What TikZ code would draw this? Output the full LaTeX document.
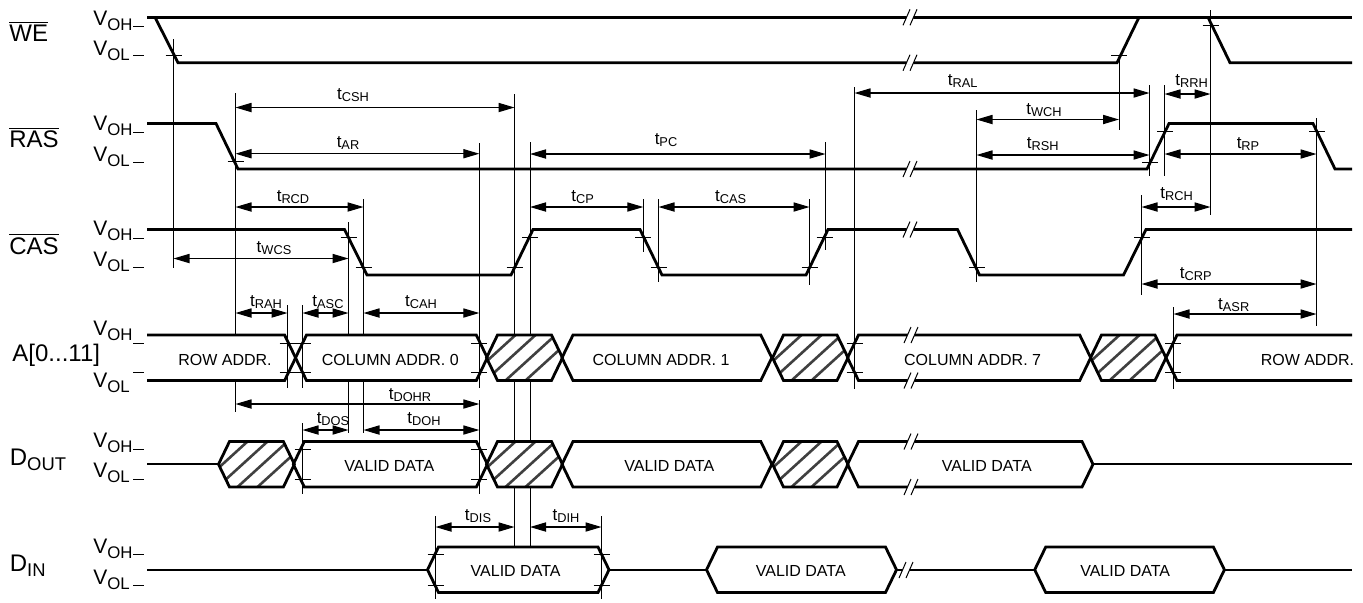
\documentclass[tikz,border=0pt]{standalone}
\usepackage{fontspec}
\setmainfont{Liberation Sans}
\usetikzlibrary{arrows.meta}

\definecolor{hatchgray}{HTML}{404040}

\tikzset{
    sig/.style = {line width=1.4pt, line join=miter},
    thin line/.style = {line width=0.5pt},
    hatchline/.style = {line width=1.3pt, hatchgray},
    dim/.style = {line width=0.55pt, {Triangle[length=8pt,width=4.6pt]}-{Triangle[length=8pt,width=4.6pt]}},
    tlabel/.style = {anchor=base, inner sep=0pt, font=\fontsize{8.5}{10}\selectfont},
    vlabel/.style = {anchor=base west, inner sep=0pt, font=\fontsize{10.5}{12}\selectfont},
    signame/.style = {anchor=base west, inner sep=0pt, font=\fontsize{12}{14}\selectfont},
    cell/.style = {anchor=base, inner sep=0pt, font=\fontsize{8}{10}\selectfont}
}

\newcommand{\tsub}[1]{t\raisebox{-1pt}{\fontsize{6.4}{8}\selectfont #1}}
\newcommand{\vsub}[1]{V\raisebox{-2.5pt}{\fontsize{8.4}{10}\selectfont #1}}
\newcommand{\hexpath}[4]{(#1-11,{(#3+#4)/2}) -- (#1,#3) -- (#2,#3) -- (#2+11,{(#3+#4)/2}) -- (#2,#4) -- (#1,#4) -- cycle}
\newcommand{\hatchcell}[4]{%
    \begin{scope}
        \clip \hexpath{#1}{#2}{#3}{#4};
        \foreach \o in {18,38,58,78}
            \draw[hatchline] (#1+\o,#3) -- (#1+\o-50,#4);
    \end{scope}
    \draw[sig] \hexpath{#1}{#2}{#3}{#4};}
\newcommand{\breakmark}[2]{%
    \fill[white] (#1+3,#2+2) -- (#1+10,#2+2) -- (#1+11,#2-2) -- (#1+4,#2-2) -- cycle;
    \draw[thin line] (#1,#2+8) -- (#1+7,#2-8) (#1+7,#2+8) -- (#1+14,#2-8);}
\newcommand{\tdim}[6]{%
    \coordinate (#1a) at (#2,#4);
    \coordinate (#1b) at (#3,#4);
    \draw[dim] (#1a) -- (#1b);
    \node[tlabel] (#1) at (#5,#6) {\tsub{#1}};}

\begin{document}
\begin{tikzpicture}[x=0.5pt,y=-0.5pt]
    \useasboundingbox (0,0) rectangle (1363,602);

    % signal names
    \node[signame] (we) at (9,41.7) {$\overline{\mbox{WE}}$};
    \node[signame] (ras) at (9,147.7) {$\overline{\mbox{RAS}}$};
    \node[signame] (cas) at (9,254) {$\overline{\mbox{CAS}}$};
    \node[signame] (addr) at (12,361.7) {A[0...11]};
    \node[signame] (dout) at (9.5,465.7) {D\raisebox{-2.5pt}{\fontsize{9.2}{11}\selectfont OUT}};
    \node[signame] (din) at (9.5,571.7) {D\raisebox{-2.5pt}{\fontsize{9.2}{11}\selectfont IN}};

    % levels
    \foreach \y/\v [count=\i] in {25/OH,55.7/OL,130.7/OH,161.7/OL,235.7/OH,266.7/OL,335/OH,387/OL,447/OH,477.7/OL,553/OH,584/OL}
        \node[vlabel] (v\i) at (93,\y) {\vsub{\v}};
    \foreach \y in {26,55,132,162,238,267.5,343,372.5,449,479.5,554.5,585}
        \draw[thin line] (133,\y) -- (144,\y);

    % extension lines
    \foreach \x/\a/\b in {173.5/39/268, 235.5/93/335, 235.5/382/412, 348.5/222/335, 348.5/382/433,
        363.5/199/335, 363.5/382/433, 287.5/305/388, 302.5/305/388, 302.5/423/494,
        479.3/143/388, 479.3/400/494, 514.5/94/335, 514.5/381/441, 514.5/487/547,
        530/142/335, 530/381/441, 530/487/547, 643.3/199/252, 658.5/199/282,
        809.5/199/285, 825.5/142/250, 854.5/87/389, 976.5/110/282, 1119/55/129.5,
        1149.5/85/176, 1164.5/85/176, 1141.5/195/295, 1210.5/10/215, 1316.5/118/326,
        1173.5/307/389, 435.5/516/599, 601.5/516/599}
        \draw[thin line] (\x,\a) -- (\x,\b);

    % WE
    \draw[sig] (147,17.3) -- (1352,17.3);
    \draw[sig] (155,17.3) -- (178,62.7) -- (1117,62.7) -- (1139,17.3);
    \draw[sig] (1208,17.3) -- (1230,62.7) -- (1352,62.7);
    % RAS
    \draw[sig] (147,123.5) -- (216,123.5) -- (238,169) -- (1147,169) -- (1169,123.5)
        -- (1313,123.5) -- (1335,169) -- (1352,169);
    % CAS
    \draw[sig] (147,229.5) -- (344.5,229.5) -- (367,275) -- (511,275) -- (533,229.5)
        -- (640,229.5) -- (662,275) -- (806,275) -- (828,229.5) -- (957.5,229.5)
        -- (979.5,275) -- (1123.5,275) -- (1146,229.5) -- (1352,229.5);

    % address bus
    \draw[sig] (147,335) -- (284.6,335) -- (295.6,357.8) -- (284.6,380.5) -- (147,380.5);
    \draw[sig] \hexpath{306.5}{476.3}{335}{380.5};
    \hatchcell{497.5}{551.5}{335}{380.5}
    \draw[sig] \hexpath{573}{760.8}{335}{380.5};
    \hatchcell{783.5}{837}{335}{380.5}
    \draw[sig] \hexpath{858.5}{1079.7}{335}{380.5};
    \hatchcell{1101.5}{1155}{335}{380.5}
    \draw[sig] (1352,335) -- (1177,335) -- (1166,357.8) -- (1177,380.5) -- (1352,380.5);

    % data out
    \draw[sig] (147,464) -- (218.5,464);
    \hatchcell{229.5}{283.4}{441.5}{487}
    \draw[sig] \hexpath{304.3}{476.4}{441.5}{487};
    \hatchcell{497.5}{551.5}{441.5}{487}
    \draw[sig] \hexpath{573}{760.8}{441.5}{487};
    \hatchcell{783.5}{837}{441.5}{487}
    \draw[sig] \hexpath{858.5}{1082}{441.5}{487};
    \draw[sig] (1093,464) -- (1352,464);

    % data in
    \draw[sig] (147,570) -- (427.5,570);
    \draw[sig] \hexpath{438.5}{598}{547}{592.5};
    \draw[sig] (609,570) -- (706.7,570);
    \draw[sig] \hexpath{717.5}{885.5}{547}{592.5};
    \draw[sig] (896.5,570) -- (1034.7,570);
    \draw[sig] \hexpath{1045.7}{1213.4}{547}{592.5};
    \draw[sig] (1224.4,570) -- (1352,570);

    % breaks
    \foreach \x/\y in {903/17.3,903/62.7,903/169,903/229.5,904/335,904/380.5,904/441.5,904/487,899/570}
        {\breakmark{\x}{\y}}

    % crossing ticks
    \foreach \x/\y in {173.5/55,1119/55,1210.5/25,235.5/161.5,1150/162,1165/131,1317/131,
        348.5/237,363.5/267.5,514.7/267.5,530/237,643/237,658.5/267.5,809.5/267.5,824.5/237,
        977/267.5,1142/237,287.5/343,302.5/343,287.5/372.5,302.5/372.5,479/343,479/372.5,
        854.5/343,854.5/372.5,1173/343,1173/372.5,302.5/449,302.5/479.5,479/449,479/479.5,
        435.5/554.5,435.5/585,601.5/554.5,601.5/585}
        \draw[thin line] (\x-8,\y) -- (\x+8,\y);

    % timings
    \tdim{CSH}{235.5}{514.5}{107.5}{353}{99}
    \tdim{AR}{235.5}{479.3}{153.7}{348}{147}
    \tdim{RCD}{235.5}{363.5}{207}{293}{201}
    \tdim{WCS}{173.5}{348.5}{258.5}{274}{252}
    \tdim{RAH}{235.5}{287.5}{313}{266}{306}
    \tdim{ASC}{302.5}{348.5}{313}{328}{306}
    \tdim{CAH}{363.5}{479.3}{313}{421}{306}
    \tdim{DOHR}{235.5}{479.3}{404}{410}{399}
    \tdim{DOS}{302.5}{348.5}{430}{333}{423}
    \tdim{DOH}{363.5}{479.3}{430}{424}{423}
    \tdim{DIS}{435.5}{514.5}{527}{478}{520.7}
    \tdim{DIH}{530}{601.5}{527}{566}{520.7}
    \tdim{PC}{530}{825.5}{154}{666}{144}
    \tdim{CP}{530}{643.3}{207}{582.7}{201}
    \tdim{CAS}{658.5}{809.5}{207}{730.7}{201}
    \tdim{RAL}{854.5}{1149.5}{93}{962.7}{85.7}
    \tdim{WCH}{976.5}{1119}{119.5}{1044}{114}
    \tdim{RSH}{976.5}{1149.5}{155}{1042.7}{148}
    \tdim{RRH}{1164.5}{1210.5}{94}{1191.7}{85}
    \tdim{RP}{1164.5}{1316.5}{154}{1248}{148}
    \tdim{RCH}{1141.5}{1210.5}{207}{1176.7}{198}
    \tdim{CRP}{1141.5}{1316.5}{284}{1195.7}{278}
    \tdim{ASR}{1173.5}{1316.5}{314}{1233.7}{309.7}

    % cell texts
    \node[cell] (rowa) at (225,365.7) {ROW ADDR.};
    \node[cell] (cola) at (390.3,365.7) {COLUMN ADDR. 0};
    \node[cell] (colb) at (661,365.7) {COLUMN ADDR. 1};
    \node[cell] (colc) at (972.6,365.7) {COLUMN ADDR. 7};
    \node[cell] (rowb) at (1307.4,365.7) {ROW ADDR.};
    \node[cell] (vda) at (389.3,471.3) {VALID DATA};
    \node[cell] (vdb) at (669.3,471.3) {VALID DATA};
    \node[cell] (vdc) at (986.8,471.3) {VALID DATA};
    \node[cell] (vdd) at (515.6,576.7) {VALID DATA};
    \node[cell] (vde) at (800.8,576.7) {VALID DATA};
    \node[cell] (vdf) at (1125.2,576.7) {VALID DATA};
\end{tikzpicture}
\end{document}
